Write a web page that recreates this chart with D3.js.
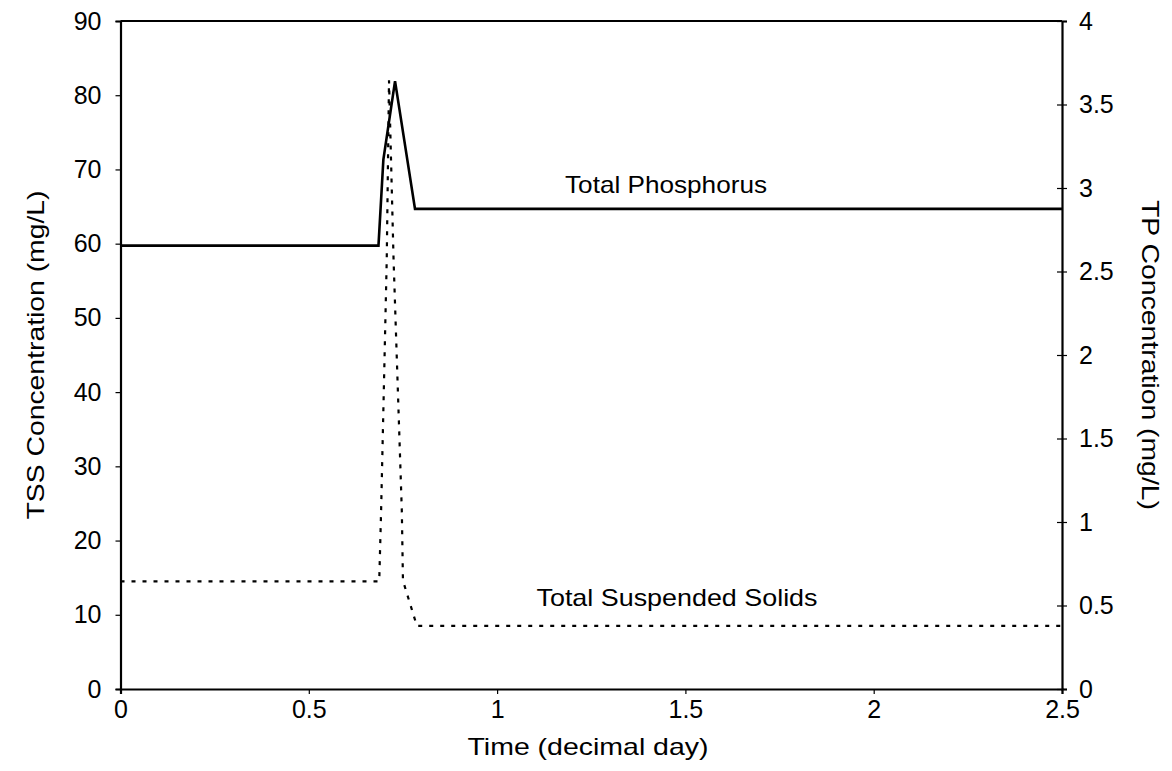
<!DOCTYPE html>
<html><head><meta charset="utf-8">
<script src="https://cdn.jsdelivr.net/npm/d3@7"></script>
<style>body{margin:0;background:#fff}svg{display:block}text{font-family:"Liberation Sans",Arial,sans-serif;fill:#000}</style>
</head><body><svg id="c" width="1172" height="771"></svg>
<script>
const tssTime = [0, 0.687, 0.692, 0.707, 0.713, 0.725, 0.747, 0.750, 0.787, 2.5];
const tssValues = [14.5, 14.5, 24, 58, 82, 58, 24, 14.6, 8.5, 8.5];
const tpTime = [0, 0.685, 0.698, 0.729, 0.782, 2.5];
const tpValues = [2.655, 2.655, 3.17, 3.64, 2.875, 2.875];
const xTicks = [0, 0.5, 1, 1.5, 2, 2.5];
const tssTicks = [0, 10, 20, 30, 40, 50, 60, 70, 80, 90];
const tpTicks = [0, 0.5, 1, 1.5, 2, 2.5, 3, 3.5, 4];

const svg = d3.select("#c");
const L = 120.5, R = 1062, T = 21, B = 689;
const x = d3.scaleLinear().domain([0, 2.5]).range([L, R]);
const yL = d3.scaleLinear().domain([0, 90]).range([B, T]);
const yR = d3.scaleLinear().domain([0, 4]).range([B, T]);
const fs = 24, tfs = 25;

svg.append("line").attr("x1", L).attr("x2", R).attr("y1", T).attr("y2", T).attr("stroke", "#000").attr("stroke-width", 2);

const ax = svg.append("g").attr("transform", `translate(0,${B})`)
  .call(d3.axisBottom(x).tickValues(xTicks).tickSize(5).tickPadding(6).tickFormat(d => d));
const al = svg.append("g").attr("transform", `translate(${L},0)`)
  .call(d3.axisLeft(yL).tickValues(tssTicks).tickSize(5).tickPadding(14).tickFormat(d => d));
const ar = svg.append("g").attr("transform", `translate(${R},0)`)
  .call(d3.axisRight(yR).tickValues(tpTicks).tickSize(5).tickPadding(12).tickFormat(d => d));
ar.selectAll(".tick line").attr("x1", -5);
[ax, al, ar].forEach(g => {
  g.select(".domain").attr("stroke-width", 2.2).attr("stroke", "#000");
  g.selectAll(".tick line").attr("stroke", "#000").attr("stroke-width", 1.2);
  g.selectAll(".tick text").style("font-size", tfs + "px").style("font-family", '"Liberation Sans",Arial,sans-serif').attr("fill", "#000");
});

const lineL = d3.line().x(d => x(d[0])).y(d => yL(d[1]));
const lineR = d3.line().x(d => x(d[0])).y(d => yR(d[1]));
svg.append("path").attr("d", lineL(d3.zip(tssTime, tssValues)))
  .attr("fill", "none").attr("stroke", "#000").attr("stroke-width", 2.2).attr("stroke-dasharray", "4,7");
svg.append("path").attr("d", lineR(d3.zip(tpTime, tpValues)))
  .attr("fill", "none").attr("stroke", "#000").attr("stroke-width", 2.6).attr("stroke-linejoin", "miter");

function label(txt, tr, len) {
  return svg.append("text").attr("transform", tr).attr("text-anchor", "middle")
    .style("font-size", fs + "px").attr("textLength", len).attr("lengthAdjust", "spacingAndGlyphs").text(txt);
}
label("Total Phosphorus", "translate(666,193)", 202);
label("Total Suspended Solids", "translate(677,606)", 281);
label("Time (decimal day)", "translate(588,755)", 241);
label("TSS Concentration (mg/L)", "translate(44,355) rotate(-90)", 329);
label("TP Concentration (mg/L)", "translate(1142,355) rotate(90)", 310);
</script></body></html>
